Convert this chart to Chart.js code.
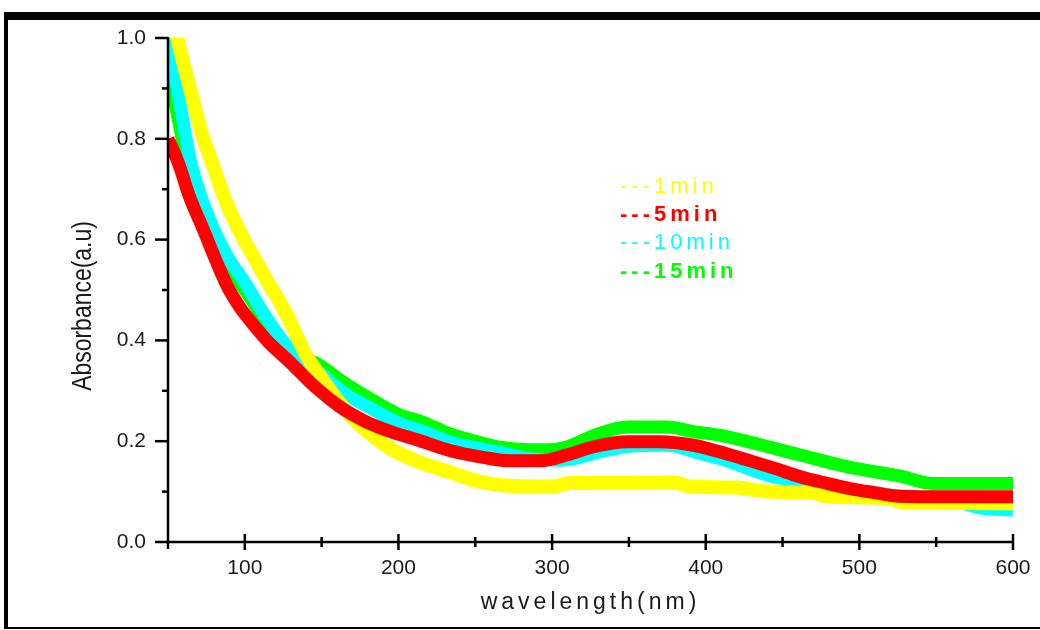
<!DOCTYPE html>
<html><head><meta charset="utf-8">
<style>
html,body{margin:0;padding:0;background:#fff;}
#wrap{position:relative;width:1040px;height:630px;overflow:hidden;background:#fff;}
#frame{position:absolute;left:4px;top:12px;width:1040px;height:617px;border-top:8px solid #000;border-left:4px solid #000;border-bottom:2px solid #000;box-sizing:border-box;}
canvas{position:absolute;left:0;top:0;}
</style>
<script src="https://cdn.jsdelivr.net/npm/chart.js@4/dist/chart.umd.min.js"></script>
</head><body>
<div id="wrap"><div id="frame"></div><canvas id="c" width="1040" height="630"></canvas></div>
<script>
// ---- data ----
const seriesNames = ['---1min', '---5min', '---10min', '---15min'];

const lambda1 = [50, 56, 60, 66, 72, 79, 87, 96, 105, 116, 122, 129, 140, 150, 162, 175, 195, 214, 234, 250, 270, 300, 312, 380, 390, 420, 440, 468, 480, 518, 530, 600];
const abs1    = [1.08, 1.0, 0.95, 0.88, 0.81, 0.75, 0.68, 0.62, 0.57, 0.51, 0.48, 0.44, 0.37, 0.325, 0.275, 0.232, 0.185, 0.158, 0.138, 0.122, 0.112, 0.11, 0.117, 0.118, 0.11, 0.108, 0.1, 0.098, 0.09, 0.087, 0.078, 0.077];

const lambda5 = [50, 57, 64, 73, 81, 89, 97, 104, 115, 129, 145, 162, 178, 195, 214, 234, 255, 273, 292, 310, 327, 349, 370, 392, 409, 429, 445, 461, 478, 494, 510, 526, 560, 600];
const abs5    = [0.80, 0.75, 0.685, 0.62, 0.56, 0.505, 0.465, 0.437, 0.398, 0.358, 0.31, 0.268, 0.24, 0.219, 0.201, 0.181, 0.168, 0.161, 0.161, 0.173, 0.189, 0.199, 0.199, 0.192, 0.179, 0.161, 0.146, 0.13, 0.117, 0.106, 0.098, 0.091, 0.09, 0.09];

const lambda10 = [50, 57, 65, 80, 90, 100, 115, 130, 149, 165, 184, 201, 214, 234, 266, 285, 303, 318, 330, 353, 375, 396, 410, 440, 468, 500, 540, 565, 578, 600];
const abs10    = [1.01, 0.884, 0.751, 0.619, 0.56, 0.515, 0.44, 0.38, 0.335, 0.295, 0.262, 0.235, 0.222, 0.198, 0.178, 0.166, 0.162, 0.168, 0.178, 0.191, 0.192, 0.176, 0.165, 0.133, 0.115, 0.1, 0.087, 0.078, 0.068, 0.063];

const lambda15 = [50, 56, 62, 69, 78, 87, 100, 125, 149, 165, 184, 201, 214, 234, 250, 266, 285, 298, 310, 327, 349, 375, 392, 409, 429, 461, 494, 526, 548, 600];
const abs15    = [0.94, 0.85, 0.76, 0.69, 0.61, 0.553, 0.5, 0.39, 0.35, 0.315, 0.28, 0.252, 0.24, 0.214, 0.2, 0.188, 0.183, 0.183, 0.189, 0.211, 0.228, 0.228, 0.219, 0.212, 0.198, 0.173, 0.148, 0.131, 0.116, 0.116];

const xTickValues = [100, 200, 300, 400, 500, 600];
const xMinorValues = [150, 250, 350, 450, 550];
const yTickValues = [0.0, 0.2, 0.4, 0.6, 0.8, 1.0];
const yMinorValues = [0.1, 0.3, 0.5, 0.7, 0.9];

const colors = ['#ffff00', '#ff0000', '#00ffff', '#00ff00'];
const widths = [14, 13, 13, 13];
const drawOrder = [1, 0, 2, 3]; // lower = on top

function pts(xs, ys) { return xs.map((v, i) => ({x: v, y: ys[i]})); }
const seriesData = [pts(lambda1, abs1), pts(lambda5, abs5), pts(lambda10, abs10), pts(lambda15, abs15)];

const FONT = '"Liberation Sans", Arial, sans-serif';

const decor = {
  id: 'decor',
  afterDatasetsDraw(chart) {
    const {ctx, chartArea: a, scales: {x, y}} = chart;
    ctx.save();
    ctx.strokeStyle = '#000';
    ctx.lineWidth = 2.5;
    ctx.lineCap = 'butt';
    const seg = (x1, y1, x2, y2) => { ctx.beginPath(); ctx.moveTo(x1, y1); ctx.lineTo(x2, y2); ctx.stroke(); };
    seg(a.left, a.top - 1, a.left, a.bottom + 7);
    seg(a.left - 2, a.bottom, a.right + 1, a.bottom);
    yTickValues.forEach(v => { const p = y.getPixelForValue(v); seg(a.left - 13, p, a.left, p); });
    yMinorValues.forEach(v => { const p = y.getPixelForValue(v); seg(a.left - 6, p, a.left, p); });
    xTickValues.forEach(v => { const p = x.getPixelForValue(v); seg(p, a.bottom - 8, p, a.bottom + 8); });
    xMinorValues.forEach(v => { const p = x.getPixelForValue(v); seg(p, a.bottom - 5, p, a.bottom + 5); });
    ctx.restore();
  },
  afterDraw(chart) {
    const {ctx, chartArea: a} = chart;
    ctx.save();
    // x title
    ctx.fillStyle = '#1a1a1a';
    ctx.font = '23px ' + FONT;
    ctx.textAlign = 'center';
    ctx.textBaseline = 'middle';
    ctx.letterSpacing = '4px';
    ctx.fillText('wavelength(nm)', (a.left + a.right) / 2, 603);
    // y title
    ctx.letterSpacing = '0px';
    ctx.save();
    ctx.translate(84, 306);
    ctx.rotate(-Math.PI / 2);
    ctx.scale(0.85, 1);
    ctx.font = '27px ' + FONT;
    ctx.fillText('Absorbance(a.u)', 0, 0);
    ctx.restore();
    // legend
    const ly = [187, 215, 243, 272];
    const bold = [false, true, false, true];
    ctx.textAlign = 'left';
    ctx.letterSpacing = '4px';
    seriesNames.forEach((n, i) => {
      ctx.font = (bold[i] ? 'bold ' : '') + '22px ' + FONT;
      ctx.fillStyle = colors[i];
      ctx.fillText(n, 620, ly[i]);
    });
    ctx.restore();
  }
};

new Chart(document.getElementById('c'), {
  type: 'line',
  data: {
    datasets: seriesData.map((d, i) => ({
      label: seriesNames[i],
      data: d,
      borderColor: colors[i],
      backgroundColor: colors[i],
      borderWidth: widths[i],
      pointRadius: 0,
      fill: false,
      tension: 0.4,
      cubicInterpolationMode: 'monotone',
      order: drawOrder[i],
      clip: 0
    }))
  },
  options: {
    responsive: false,
    animation: false,
    events: [],
    layout: {padding: {left: 0, top: 38, right: 27, bottom: 0}},
    plugins: {legend: {display: false}, tooltip: {enabled: false}},
    scales: {
      x: {
        type: 'linear', min: 50, max: 600,
        afterFit(s) { s.height = 88; s.paddingLeft = 0; s.paddingRight = 0; },
        afterBuildTicks(s) { s.ticks = xTickValues.map(v => ({value: v})); },
        grid: {display: false, drawTicks: false},
        border: {display: false},
        ticks: {
          color: '#1a1a1a', padding: 14, maxRotation: 0, autoSkip: false,
          font: {family: FONT, size: 21},
          callback: v => String(v)
        }
      },
      y: {
        type: 'linear', min: 0, max: 1,
        afterFit(s) { s.width = 168; s.paddingTop = 0; s.paddingBottom = 0; },
        afterBuildTicks(s) { s.ticks = yTickValues.map(v => ({value: v})); },
        grid: {display: false, drawTicks: false},
        border: {display: false},
        ticks: {
          color: '#1a1a1a', padding: 22, autoSkip: false,
          font: {family: FONT, size: 21},
          callback: v => Number(v).toFixed(1)
        }
      }
    }
  },
  plugins: [decor]
});
</script>
</body></html>
